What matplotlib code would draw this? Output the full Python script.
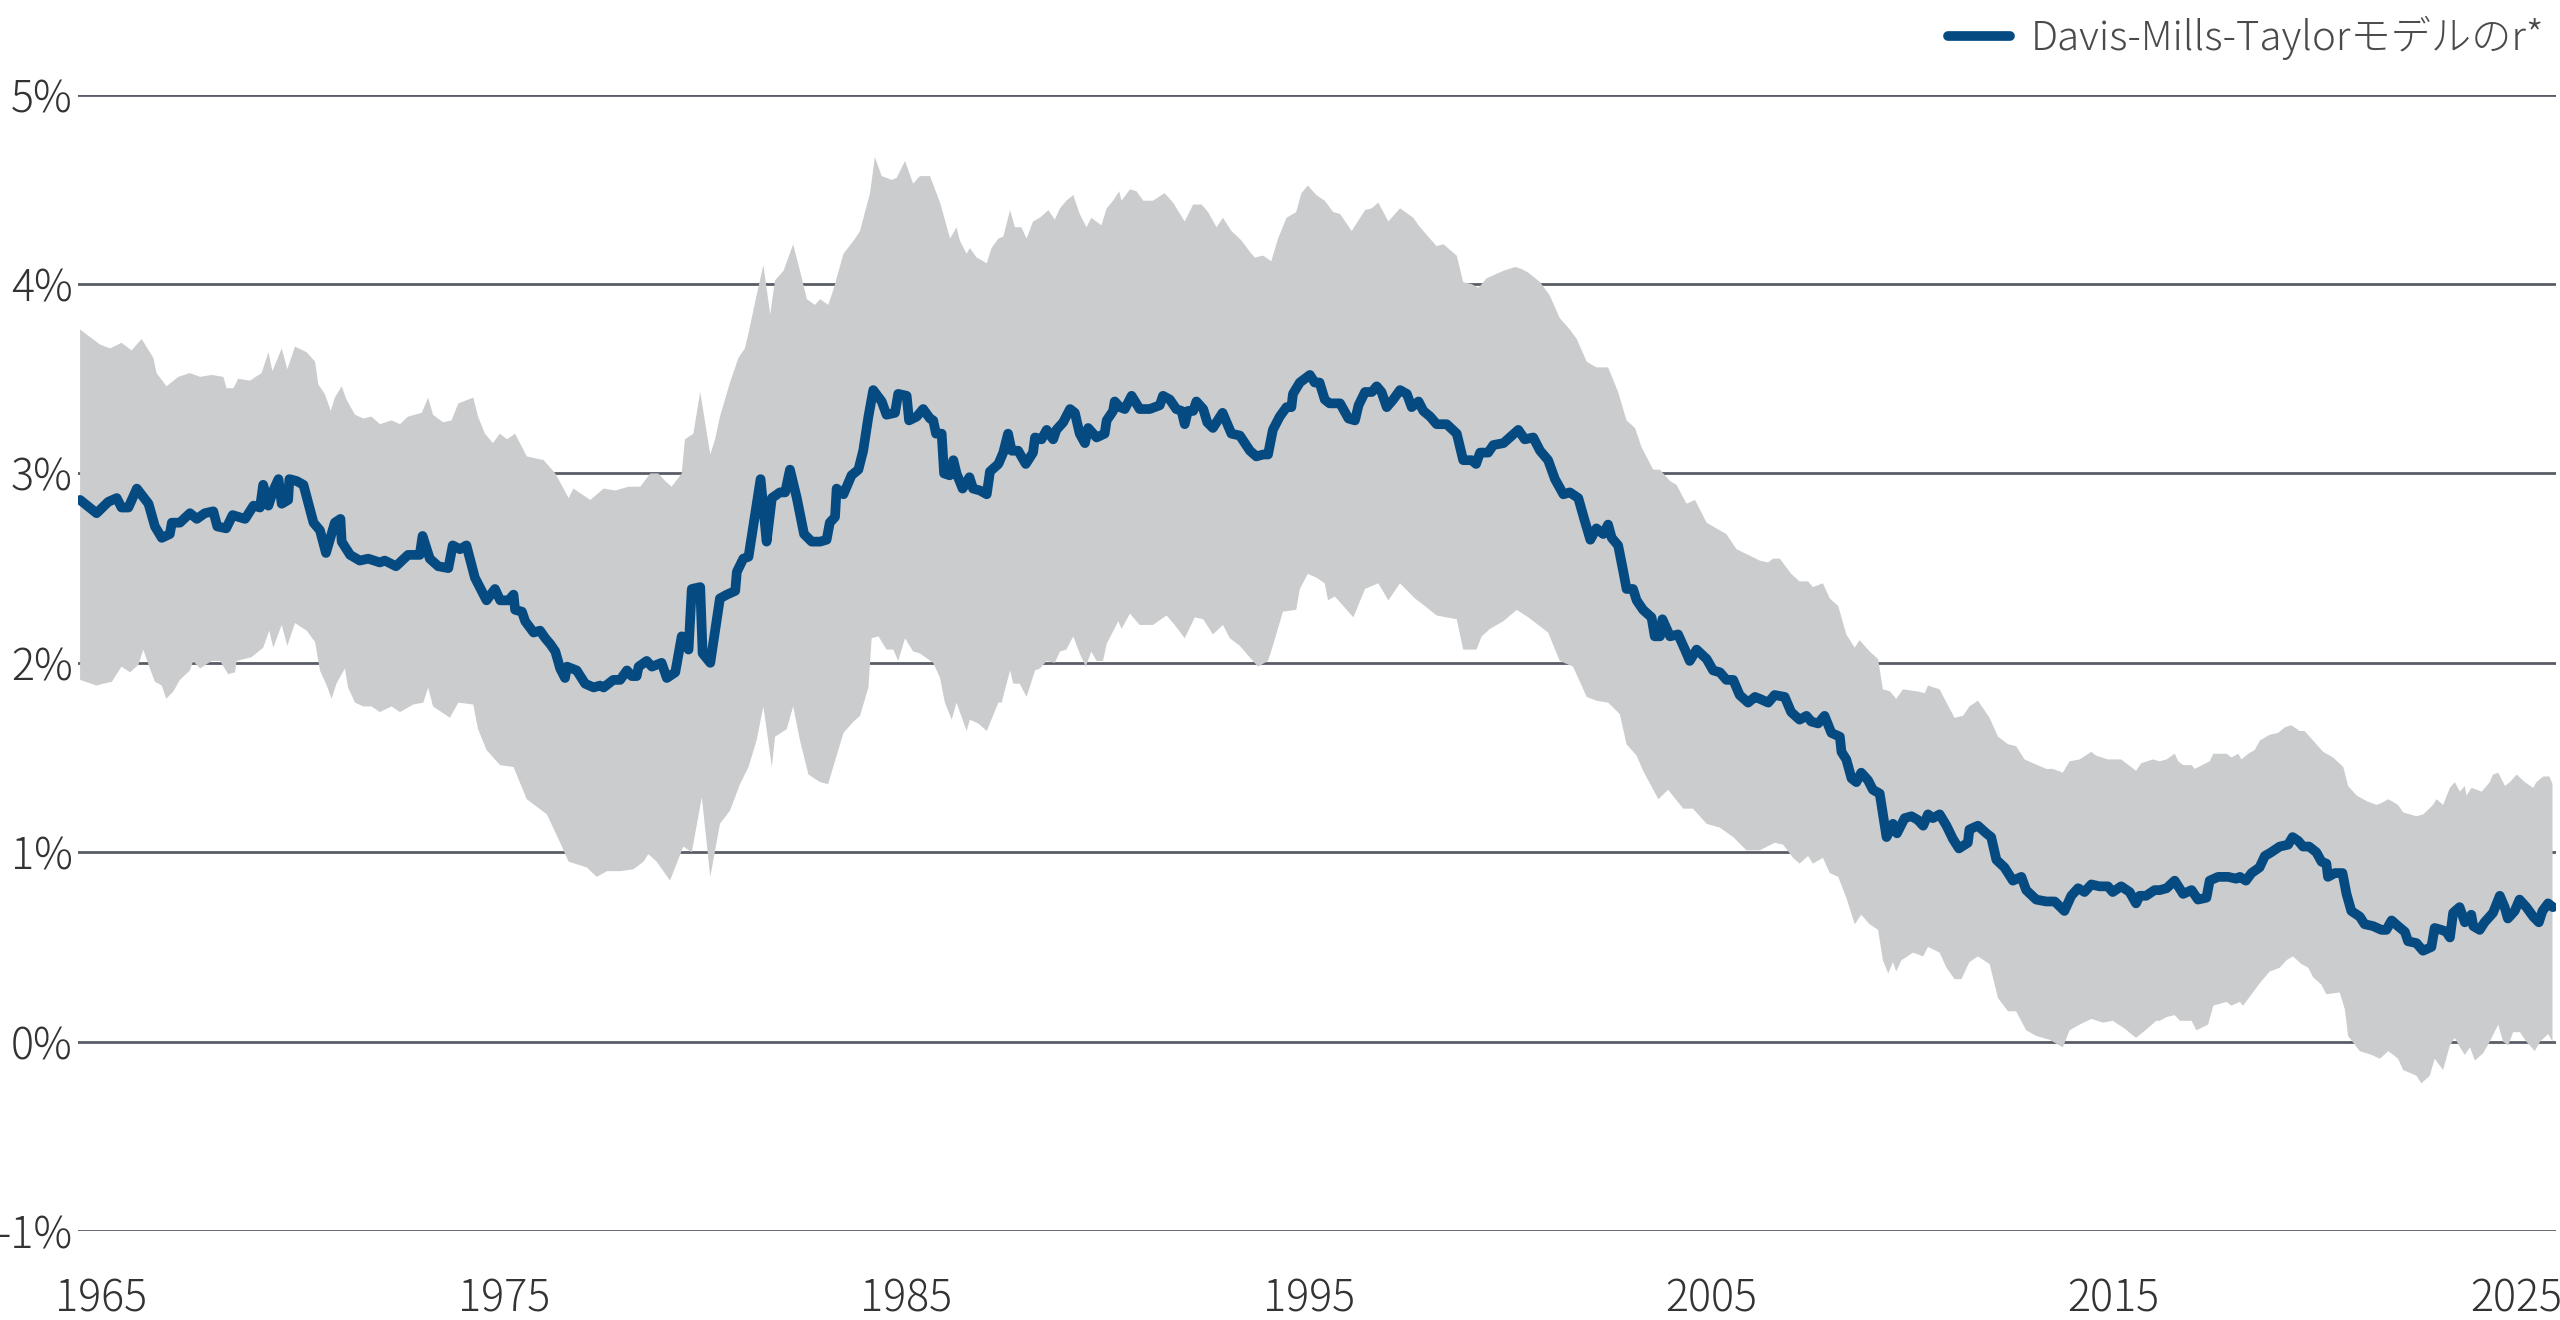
import numpy as np
import matplotlib
matplotlib.use("Agg")
import matplotlib.pyplot as plt
from matplotlib.ticker import FuncFormatter

plt.rcParams['font.family'] = ['Noto Sans CJK JP', 'DejaVu Sans']

# r* estimate (Davis-Mills-Taylor), %
line_years = [
    1964.47, 1964.88, 1965.17, 1965.38, 1965.50, 1965.67, 1965.88, 1966.17, 1966.33, 1966.50,
    1966.70, 1966.75, 1966.95, 1967.20, 1967.37, 1967.57, 1967.78, 1967.88, 1968.10, 1968.26,
    1968.57, 1968.78, 1968.94, 1969.02, 1969.15, 1969.27, 1969.40, 1969.48, 1969.64, 1969.67,
    1969.85, 1970.02, 1970.27, 1970.43, 1970.58, 1970.80, 1970.94, 1970.97, 1971.18, 1971.42,
    1971.63, 1971.92, 1972.04, 1972.32, 1972.62, 1972.91, 1972.98, 1973.16, 1973.37, 1973.62,
    1973.73, 1973.91, 1974.07, 1974.28, 1974.57, 1974.78,
    1974.91, 1975.12, 1975.24, 1975.28, 1975.45, 1975.53, 1975.74, 1975.90, 1976.03, 1976.15,
    1976.28, 1976.40, 1976.52, 1976.57, 1976.81, 1977.02, 1977.23, 1977.39, 1977.48, 1977.72,
    1977.89, 1978.06, 1978.18, 1978.30, 1978.35, 1978.55, 1978.68, 1978.92, 1979.05, 1979.26,
    1979.42, 1979.59, 1979.67, 1979.88, 1979.94, 1980.13, 1980.37, 1980.54, 1980.75, 1980.79,
    1980.95, 1981.08, 1981.24, 1981.38, 1981.53, 1981.66, 1981.86, 1981.99, 1982.11, 1982.28,
    1982.46, 1982.65, 1982.86, 1983.02, 1983.10, 1983.23, 1983.27, 1983.44, 1983.64, 1983.81,
    1983.93, 1984.06, 1984.18, 1984.39, 1984.51, 1984.72, 1984.80, 1985.01, 1985.07, 1985.26,
    1985.42, 1985.59, 1985.67, 1985.74, 1985.88, 1985.94, 1986.08, 1986.17, 1986.25, 1986.40,
    1986.57, 1986.66, 1986.83, 1987.00, 1987.08, 1987.29, 1987.41, 1987.53, 1987.62, 1987.78,
    1987.97, 1988.15, 1988.20, 1988.36, 1988.49, 1988.65, 1988.73, 1988.90, 1989.07, 1989.19,
    1989.31, 1989.44, 1989.52, 1989.73, 1989.93, 1989.98, 1990.14, 1990.18, 1990.31, 1990.43,
    1990.60, 1990.80, 1991.05, 1991.30, 1991.38, 1991.55, 1991.71, 1991.84, 1991.92, 1992.00,
    1992.13, 1992.21, 1992.38, 1992.48, 1992.62, 1992.71, 1992.86, 1993.08, 1993.29, 1993.54,
    1993.70, 1993.87, 1993.99, 1994.11, 1994.28, 1994.45, 1994.57, 1994.61, 1994.78, 1995.03,
    1995.15, 1995.27, 1995.40, 1995.52, 1995.69,
    1995.78, 1995.99, 1996.15, 1996.24, 1996.40, 1996.57, 1996.69, 1996.81, 1996.94, 1997.10,
    1997.27, 1997.44, 1997.56, 1997.73, 1997.85, 1998.02, 1998.18, 1998.43, 1998.68, 1998.84,
    1999.05, 1999.16, 1999.26, 1999.46, 1999.59, 1999.84, 2000.00, 2000.21, 2000.37, 2000.58,
    2000.75, 2000.95, 2001.12, 2001.33, 2001.49, 2001.70, 2001.86, 2002.00, 2002.15, 2002.32,
    2002.44, 2002.53, 2002.69, 2002.82, 2002.90, 2003.06, 2003.15, 2003.31, 2003.52, 2003.60,
    2003.73, 2003.79, 2003.98, 2004.18, 2004.35, 2004.47, 2004.64, 2004.89, 2005.05, 2005.22,
    2005.38, 2005.55, 2005.71, 2005.92, 2006.09,
    2006.21, 2006.42, 2006.58, 2006.83, 2006.99, 2007.20, 2007.37, 2007.49, 2007.66, 2007.82,
    2007.99, 2008.20, 2008.24, 2008.36, 2008.49, 2008.61, 2008.73, 2008.90, 2009.02, 2009.19,
    2009.36, 2009.52, 2009.62, 2009.81, 2009.98, 2010.14, 2010.27, 2010.39, 2010.51, 2010.68,
    2010.85, 2011.01, 2011.16, 2011.38, 2011.42, 2011.63, 2011.84, 2011.96, 2012.09, 2012.29,
    2012.50, 2012.71, 2012.83, 2013.08, 2013.33, 2013.54, 2013.78, 2013.95, 2014.12, 2014.28,
    2014.45, 2014.65, 2014.86, 2014.98, 2015.19, 2015.40, 2015.56, 2015.65, 2015.81, 2016.02,
    2016.15, 2016.32, 2016.52, 2016.73, 2016.94, 2017.10, 2017.31, 2017.39, 2017.60, 2017.85,
    2018.05, 2018.14, 2018.29, 2018.43, 2018.63, 2018.76, 2018.92, 2019.13, 2019.34, 2019.45,
    2019.59, 2019.71, 2019.86, 2020.04, 2020.17, 2020.29, 2020.33, 2020.50, 2020.69, 2020.79,
    2020.91, 2021.12, 2021.24, 2021.45, 2021.66, 2021.78, 2021.91, 2022.07, 2022.24, 2022.32,
    2022.53, 2022.69, 2022.90, 2022.98, 2023.15, 2023.27, 2023.36, 2023.44, 2023.60, 2023.73,
    2023.89, 2023.94, 2024.10, 2024.22, 2024.43, 2024.60, 2024.72, 2024.80, 2024.97, 2025.09,
    2025.26, 2025.43, 2025.57, 2025.66, 2025.80, 2025.92,
]
line_vals = [
    2.86, 2.79, 2.85, 2.87, 2.82, 2.82, 2.92, 2.84, 2.72, 2.66,
    2.68, 2.74, 2.74, 2.79, 2.76, 2.79, 2.80, 2.72, 2.71, 2.78,
    2.76, 2.83, 2.82, 2.94, 2.83, 2.91, 2.97, 2.84, 2.86, 2.97,
    2.96, 2.94, 2.74, 2.70, 2.58, 2.74, 2.76, 2.64, 2.57, 2.54,
    2.55, 2.53, 2.54, 2.51, 2.57, 2.57, 2.67, 2.55, 2.51, 2.50,
    2.62, 2.60, 2.62, 2.45, 2.33, 2.39,
    2.33, 2.33, 2.36, 2.28, 2.27, 2.22, 2.16, 2.17, 2.13, 2.10,
    2.06, 1.97, 1.92, 1.98, 1.96, 1.89, 1.87, 1.88, 1.87, 1.91,
    1.91, 1.96, 1.93, 1.93, 1.98, 2.01, 1.98, 2.00, 1.92, 1.95,
    2.14, 2.07, 2.39, 2.40, 2.05, 2.00, 2.34, 2.36, 2.38, 2.48,
    2.55, 2.56, 2.78, 2.97, 2.64, 2.87, 2.90, 2.90, 3.02, 2.87,
    2.68, 2.64, 2.64, 2.65, 2.74, 2.77, 2.92, 2.89, 2.99, 3.02,
    3.12, 3.30, 3.44, 3.38, 3.31, 3.32, 3.42, 3.41, 3.28, 3.30,
    3.34, 3.29, 3.28, 3.21, 3.21, 3.00, 2.99, 3.07, 3.00, 2.92,
    2.98, 2.92, 2.91, 2.89, 3.01, 3.05, 3.11, 3.21, 3.12, 3.12,
    3.05, 3.11, 3.19, 3.18, 3.23, 3.18, 3.23, 3.27, 3.34, 3.32,
    3.21, 3.16, 3.24, 3.19, 3.21, 3.28, 3.33, 3.38, 3.35, 3.34,
    3.41, 3.34, 3.34, 3.36, 3.41, 3.39, 3.34, 3.33, 3.26, 3.33,
    3.33, 3.38, 3.34, 3.27, 3.24, 3.27, 3.32, 3.21, 3.20, 3.12,
    3.09, 3.10, 3.10, 3.23, 3.30, 3.35, 3.35, 3.42, 3.48, 3.52,
    3.48, 3.48, 3.39, 3.37, 3.37,
    3.37, 3.29, 3.28, 3.36, 3.43, 3.43, 3.46, 3.43, 3.35, 3.39,
    3.44, 3.42, 3.35, 3.38, 3.33, 3.30, 3.26, 3.26, 3.21, 3.07,
    3.07, 3.05, 3.11, 3.11, 3.15, 3.16, 3.19, 3.23, 3.18, 3.19,
    3.12, 3.07, 2.97, 2.89, 2.90, 2.87, 2.75, 2.65, 2.71, 2.68,
    2.73, 2.66, 2.62, 2.48, 2.39, 2.39, 2.33, 2.28, 2.24, 2.14,
    2.14, 2.23, 2.14, 2.15, 2.07, 2.01, 2.07, 2.02, 1.96, 1.95,
    1.91, 1.91, 1.83, 1.79, 1.82,
    1.81, 1.79, 1.83, 1.82, 1.74, 1.70, 1.72, 1.69, 1.68, 1.72,
    1.63, 1.61, 1.53, 1.49, 1.39, 1.37, 1.42, 1.38, 1.33, 1.31,
    1.08, 1.15, 1.10, 1.18, 1.19, 1.17, 1.14, 1.20, 1.18, 1.20,
    1.14, 1.07, 1.02, 1.05, 1.12, 1.14, 1.10, 1.08, 0.96, 0.92,
    0.85, 0.87, 0.80, 0.75, 0.74, 0.74, 0.69, 0.77, 0.81, 0.79,
    0.83, 0.82, 0.82, 0.79, 0.82, 0.79, 0.73, 0.77, 0.77, 0.80,
    0.80, 0.81, 0.85, 0.78, 0.80, 0.75, 0.76, 0.85, 0.87, 0.87,
    0.86, 0.87, 0.85, 0.89, 0.92, 0.98, 1.00, 1.03, 1.04, 1.08,
    1.06, 1.03, 1.03, 1.00, 0.95, 0.94, 0.87, 0.89, 0.89, 0.78,
    0.69, 0.66, 0.62, 0.61, 0.59, 0.59, 0.64, 0.61, 0.58, 0.53,
    0.52, 0.48, 0.50, 0.60, 0.59, 0.58, 0.55, 0.68, 0.71, 0.63,
    0.67, 0.61, 0.59, 0.63, 0.68, 0.77, 0.71, 0.65, 0.69, 0.75,
    0.71, 0.66, 0.63, 0.69, 0.73, 0.71,
]

# upper edge of the uncertainty band, %
upper_years = [
    1964.47, 1964.97, 1965.22, 1965.50, 1965.75, 1966.00, 1966.29, 1966.37, 1966.62, 1966.91,
    1967.20, 1967.45, 1967.74, 1968.03, 1968.11, 1968.28, 1968.40, 1968.69, 1968.98, 1969.15,
    1969.25, 1969.48, 1969.62, 1969.81, 1970.10, 1970.31, 1970.39, 1970.55, 1970.70, 1970.80,
    1970.97, 1971.09, 1971.30, 1971.51, 1971.71, 1971.92, 1972.21, 1972.42, 1972.62, 1972.96,
    1973.12, 1973.24, 1973.49, 1973.70, 1973.87, 1974.24, 1974.36, 1974.53, 1974.73, 1974.90,
    1975.08, 1975.28, 1975.57, 1975.99, 1976.28, 1976.61, 1976.73, 1977.15, 1977.48, 1977.77,
    1978.10, 1978.39, 1978.64, 1978.84, 1979.01, 1979.17, 1979.42, 1979.50, 1979.71, 1979.88,
    1980.13, 1980.25, 1980.37, 1980.62, 1980.83, 1980.99, 1981.08, 1981.28, 1981.45, 1981.62,
    1981.74, 1981.95, 1982.19, 1982.36, 1982.53, 1982.73, 1982.86, 1983.06, 1983.19, 1983.44,
    1983.73, 1983.85, 1984.10, 1984.22, 1984.39, 1984.64, 1984.76, 1984.97, 1985.17,
    1985.34, 1985.59, 1985.84, 1986.09, 1986.25, 1986.33, 1986.50, 1986.58, 1986.75, 1987.00,
    1987.12, 1987.29, 1987.41, 1987.58, 1987.70, 1987.86, 1987.99, 1988.15, 1988.32, 1988.53,
    1988.69, 1988.82, 1988.98, 1989.15, 1989.31, 1989.48, 1989.60, 1989.85, 1989.98, 1990.14,
    1990.29, 1990.35, 1990.56, 1990.72, 1990.89, 1991.13, 1991.42, 1991.63, 1991.92, 1992.13,
    1992.34, 1992.50, 1992.71, 1992.87, 1993.08, 1993.33, 1993.54, 1993.66, 1993.87, 1994.07,
    1994.24, 1994.45, 1994.69, 1994.82, 1994.98, 1995.19, 1995.40, 1995.61,
    1995.78, 1996.07, 1996.40, 1996.57, 1996.73, 1996.98, 1997.27, 1997.60, 1997.73, 1997.93,
    1998.18, 1998.35, 1998.68, 1998.84, 1999.05, 1999.22, 1999.42, 1999.84, 2000.13, 2000.29,
    2000.46, 2000.75, 2000.99, 2001.24, 2001.49, 2001.66, 2001.91, 2002.15, 2002.44, 2002.69,
    2002.90, 2003.11, 2003.27, 2003.56, 2003.73, 2003.98, 2004.14, 2004.39, 2004.60, 2004.89,
    2005.13, 2005.38, 2005.63, 2005.92,
    2006.21, 2006.42, 2006.54, 2006.71, 2006.99, 2007.20, 2007.41, 2007.53, 2007.78, 2007.95,
    2008.16, 2008.36, 2008.57, 2008.69, 2008.94, 2009.15, 2009.27, 2009.44, 2009.60, 2009.77,
    2010.10, 2010.31, 2010.39, 2010.68, 2010.85, 2011.05, 2011.26, 2011.42, 2011.63, 2011.92,
    2012.13, 2012.38, 2012.58, 2012.79, 2013.00, 2013.33, 2013.49, 2013.74, 2013.91, 2014.16,
    2014.45, 2014.57, 2014.86, 2015.19, 2015.56, 2015.69, 2015.98,
    2016.15, 2016.32, 2016.52, 2016.61, 2016.73, 2016.94, 2017.02, 2017.39, 2017.48, 2017.81,
    2017.93, 2018.10, 2018.18, 2018.35, 2018.51, 2018.64, 2018.88, 2019.09, 2019.26, 2019.42,
    2019.63, 2019.75, 2020.00, 2020.21, 2020.46, 2020.71, 2020.83, 2021.04, 2021.29, 2021.54,
    2021.66, 2021.83, 2022.07, 2022.20, 2022.53, 2022.70, 2022.94, 2023.03, 2023.19, 2023.36,
    2023.48, 2023.61, 2023.73, 2023.77, 2023.90, 2024.15, 2024.35, 2024.43, 2024.56, 2024.73,
    2024.85, 2025.02, 2025.22, 2025.43, 2025.51, 2025.68, 2025.83, 2025.91,
]
upper_vals = [
    3.76, 3.68, 3.66, 3.69, 3.65, 3.71, 3.61, 3.53, 3.46, 3.51,
    3.53, 3.51, 3.52, 3.51, 3.45, 3.45, 3.50, 3.49, 3.53, 3.64,
    3.54, 3.66, 3.55, 3.67, 3.64, 3.59, 3.47, 3.42, 3.33, 3.40,
    3.46, 3.39, 3.31, 3.29, 3.30, 3.26, 3.28, 3.26, 3.30, 3.32,
    3.40, 3.31, 3.27, 3.28, 3.37, 3.40, 3.30, 3.21, 3.16, 3.21,
    3.18, 3.21, 3.09, 3.07, 3.00, 2.87, 2.92, 2.86, 2.92, 2.91,
    2.93, 2.93, 3.00, 3.00, 2.96, 2.93, 3.00, 3.18, 3.21, 3.43,
    3.10, 3.18, 3.30, 3.48, 3.61, 3.66, 3.74, 3.94, 4.10, 3.84,
    4.02, 4.07, 4.21, 4.07, 3.92, 3.89, 3.92, 3.89, 3.97, 4.16,
    4.24, 4.28, 4.48, 4.67, 4.57, 4.55, 4.56, 4.65, 4.53,
    4.57, 4.57, 4.43, 4.24, 4.30, 4.23, 4.16, 4.19, 4.14, 4.11,
    4.19, 4.24, 4.25, 4.39, 4.30, 4.30, 4.24, 4.33, 4.35, 4.39,
    4.34, 4.40, 4.44, 4.47, 4.37, 4.30, 4.35, 4.31, 4.40, 4.44,
    4.49, 4.44, 4.50, 4.49, 4.44, 4.44, 4.48, 4.43, 4.33, 4.42,
    4.42, 4.38, 4.30, 4.35, 4.28, 4.23, 4.17, 4.14, 4.15, 4.12,
    4.24, 4.35, 4.38, 4.48, 4.52, 4.47, 4.44, 4.38,
    4.37, 4.28, 4.39, 4.40, 4.43, 4.33, 4.40, 4.35, 4.31, 4.26,
    4.20, 4.21, 4.15, 4.01, 4.00, 3.98, 4.03, 4.07, 4.09, 4.08,
    4.06, 4.01, 3.94, 3.82, 3.76, 3.71, 3.59, 3.56, 3.56, 3.43,
    3.28, 3.24, 3.14, 3.02, 3.02, 2.96, 2.94, 2.84, 2.86, 2.74,
    2.71, 2.68, 2.60, 2.57,
    2.54, 2.53, 2.55, 2.55, 2.47, 2.43, 2.43, 2.40, 2.42, 2.34,
    2.30, 2.15, 2.08, 2.12, 2.06, 2.02, 1.86, 1.85, 1.81, 1.86,
    1.85, 1.84, 1.88, 1.86, 1.79, 1.71, 1.72, 1.77, 1.80, 1.71,
    1.61, 1.57, 1.56, 1.49, 1.47, 1.44, 1.44, 1.42, 1.48, 1.49,
    1.53, 1.51, 1.49, 1.49, 1.43, 1.47, 1.49,
    1.48, 1.49, 1.52, 1.48, 1.46, 1.46, 1.44, 1.48, 1.52, 1.52,
    1.50, 1.52, 1.49, 1.52, 1.54, 1.59, 1.62, 1.63, 1.66, 1.67,
    1.64, 1.64, 1.58, 1.53, 1.50, 1.45, 1.35, 1.30, 1.27, 1.25,
    1.26, 1.28, 1.25, 1.21, 1.19, 1.20, 1.25, 1.28, 1.25, 1.34,
    1.37, 1.32, 1.35, 1.30, 1.34, 1.32, 1.37, 1.41, 1.42, 1.35,
    1.37, 1.41, 1.37, 1.34, 1.37, 1.40, 1.40, 1.36,
]

# lower edge of the uncertainty band, %
lower_years = [
    1964.47, 1964.88, 1965.05, 1965.26, 1965.50, 1965.71, 1965.92, 1966.04, 1966.17, 1966.33,
    1966.50, 1966.61, 1966.79, 1966.95, 1967.20, 1967.28, 1967.45, 1967.74, 1967.95, 1968.15,
    1968.32, 1968.36, 1968.73, 1969.02, 1969.17, 1969.27, 1969.48, 1969.62, 1969.81, 1970.10,
    1970.31, 1970.43, 1970.60, 1970.72, 1970.84, 1971.05, 1971.13, 1971.30, 1971.51, 1971.71,
    1971.92, 1972.21, 1972.42, 1972.75, 1973.00, 1973.12, 1973.24, 1973.66, 1973.87, 1974.24,
    1974.36, 1974.57, 1974.82,
    1974.91, 1975.24, 1975.57, 1976.07, 1976.40, 1976.61, 1977.06, 1977.31, 1977.56, 1977.89,
    1978.22, 1978.47, 1978.59, 1978.80, 1979.13, 1979.46, 1979.67, 1979.92, 1980.13, 1980.37,
    1980.62, 1980.87, 1981.08, 1981.28, 1981.45, 1981.66, 1981.74, 1982.03, 1982.19, 1982.36,
    1982.57, 1982.86, 1983.06, 1983.27, 1983.44, 1983.69, 1983.85, 1984.06, 1984.14, 1984.31,
    1984.51, 1984.68, 1984.80, 1984.97, 1985.17,
    1985.34, 1985.67, 1985.84, 1985.96, 1986.13, 1986.25, 1986.50, 1986.58, 1986.79, 1987.00,
    1987.29, 1987.37, 1987.58, 1987.66, 1987.82, 1987.99, 1988.20, 1988.32, 1988.49, 1988.69,
    1988.82, 1988.98, 1989.15, 1989.31, 1989.46, 1989.60, 1989.73, 1989.89, 1989.98, 1990.27,
    1990.35, 1990.56, 1990.80, 1991.13, 1991.47, 1991.67, 1991.92, 1992.17, 1992.38, 1992.62,
    1992.87, 1993.04, 1993.29, 1993.49, 1993.74, 1993.99, 1994.11, 1994.36, 1994.69, 1994.78,
    1994.98, 1995.19, 1995.40, 1995.48, 1995.65,
    1995.78, 1996.11, 1996.40, 1996.73, 1996.98, 1997.27, 1997.64, 1997.89, 1998.18, 1998.68,
    1998.84, 1999.17, 1999.30, 1999.51, 1999.84, 2000.17, 2000.46, 2000.95, 2001.24, 2001.57,
    2001.91, 2002.15, 2002.44, 2002.73, 2002.90, 2003.15, 2003.31, 2003.69, 2003.93, 2004.31,
    2004.55, 2004.89, 2005.22, 2005.55, 2005.88,
    2006.21, 2006.58, 2006.79, 2007.04, 2007.20, 2007.41, 2007.53, 2007.78, 2007.95, 2008.16,
    2008.36, 2008.57, 2008.73, 2008.94, 2009.15, 2009.27, 2009.40, 2009.52, 2009.60, 2009.73,
    2010.02, 2010.27, 2010.39, 2010.68, 2010.85, 2011.05, 2011.22, 2011.42, 2011.63, 2011.92,
    2012.13, 2012.38, 2012.58, 2012.83, 2013.08, 2013.41, 2013.74, 2013.91, 2014.16, 2014.45,
    2014.74, 2014.98, 2015.27, 2015.56, 2015.85, 2016.06,
    2016.15, 2016.32, 2016.52, 2016.65, 2016.94, 2017.06, 2017.35, 2017.48, 2017.81, 2017.93,
    2018.14, 2018.22, 2018.43, 2018.64, 2018.88, 2019.13, 2019.30, 2019.46, 2019.67, 2019.84,
    2019.96, 2020.17, 2020.29, 2020.62, 2020.75, 2020.83, 2021.12, 2021.41, 2021.62, 2021.83,
    2022.07, 2022.20, 2022.53, 2022.65, 2022.86, 2022.98, 2023.19, 2023.36, 2023.48, 2023.61,
    2023.73, 2023.86, 2023.98, 2024.19, 2024.35, 2024.56, 2024.68, 2024.81, 2024.93, 2025.10,
    2025.26, 2025.47, 2025.60, 2025.80, 2025.91,
]
lower_vals = [
    1.91, 1.88, 1.89, 1.90, 1.98, 1.95, 1.99, 2.07, 1.99, 1.90,
    1.88, 1.81, 1.85, 1.91, 1.96, 2.01, 1.97, 2.01, 2.01, 1.94,
    1.95, 2.01, 2.03, 2.08, 2.17, 2.08, 2.20, 2.09, 2.21, 2.17,
    2.11, 1.96, 1.88, 1.81, 1.89, 1.97, 1.87, 1.79, 1.77, 1.77,
    1.74, 1.77, 1.74, 1.78, 1.79, 1.87, 1.77, 1.71, 1.79, 1.78,
    1.65, 1.54, 1.48,
    1.46, 1.45, 1.28, 1.20, 1.05, 0.95, 0.92, 0.87, 0.90, 0.90,
    0.91, 0.95, 0.99, 0.95, 0.85, 1.03, 1.00, 1.29, 0.87, 1.15,
    1.22, 1.36, 1.45, 1.59, 1.77, 1.45, 1.61, 1.65, 1.77, 1.59,
    1.41, 1.37, 1.36, 1.51, 1.63, 1.69, 1.72, 1.87, 2.13, 2.14,
    2.07, 2.07, 2.01, 2.13, 2.06,
    2.05, 2.00, 1.92, 1.79, 1.70, 1.79, 1.64, 1.70, 1.68, 1.64,
    1.79, 1.79, 1.96, 1.89, 1.89, 1.82, 1.96, 1.97, 2.01, 2.00,
    2.06, 2.07, 2.14, 2.05, 1.98, 2.06, 2.01, 2.01, 2.10, 2.22,
    2.18, 2.26, 2.20, 2.20, 2.25, 2.20, 2.13, 2.24, 2.23, 2.15,
    2.20, 2.13, 2.09, 2.04, 1.98, 2.01, 2.09, 2.27, 2.28, 2.39,
    2.47, 2.45, 2.42, 2.33, 2.35,
    2.32, 2.24, 2.39, 2.42, 2.33, 2.42, 2.34, 2.30, 2.25, 2.23,
    2.07, 2.07, 2.14, 2.18, 2.22, 2.28, 2.24, 2.16, 2.01, 1.98,
    1.82, 1.80, 1.79, 1.73, 1.57, 1.51, 1.43, 1.28, 1.33, 1.23,
    1.23, 1.15, 1.13, 1.08, 1.01,
    1.01, 1.05, 1.04, 0.97, 0.94, 0.98, 0.94, 0.97, 0.89, 0.87,
    0.76, 0.62, 0.67, 0.62, 0.59, 0.43, 0.36, 0.42, 0.37, 0.43,
    0.47, 0.45, 0.50, 0.47, 0.39, 0.33, 0.33, 0.42, 0.45, 0.41,
    0.23, 0.16, 0.16, 0.06, 0.03, 0.01, -0.03, 0.06, 0.09, 0.12,
    0.10, 0.11, 0.07, 0.02, 0.07, 0.11,
    0.11, 0.13, 0.14, 0.11, 0.11, 0.06, 0.09, 0.19, 0.21, 0.19,
    0.21, 0.19, 0.25, 0.31, 0.37, 0.39, 0.43, 0.45, 0.41, 0.39,
    0.34, 0.30, 0.25, 0.26, 0.17, 0.03, -0.05, -0.07, -0.09, -0.05,
    -0.09, -0.15, -0.18, -0.22, -0.18, -0.09, -0.15, -0.02, 0.02, -0.03,
    -0.07, -0.03, -0.10, -0.06, 0.00, 0.09, 0.00, -0.02, 0.05, 0.05,
    0.00, -0.05, 0.00, 0.04, 0.00,
]

year_ticks = [1965, 1975, 1985, 1995, 2005, 2015, 2025]
pct_ticks = [-1, 0, 1, 2, 3, 4, 5]
series_label = 'Davis-Mills-Taylorモデルのr*'

line_color = '#054B82'
band_color = '#CBCCCE'
grid_color = '#5A5D66'
text_color = '#333333'

fig = plt.figure(figsize=(25.6, 13.2), dpi=100)
ax = fig.add_axes([0.0305, 0.0674, 0.968, 0.8609])

# band as one polygon: upper edge forward, lower edge back
band_x = np.concatenate([upper_years, lower_years[::-1]])
band_y = np.concatenate([upper_vals, lower_vals[::-1]])
ax.fill(band_x, band_y, color=band_color, lw=0, zorder=2)

ax.plot(line_years, line_vals, color=line_color, lw=7,
        solid_joinstyle='round', solid_capstyle='round', zorder=3,
        label=series_label)

ax.set_xlim(1964.42, 2026.0)
ax.set_ylim(-1, 5)
ax.set_xticks(year_ticks)
ax.set_yticks(pct_ticks)
ax.yaxis.set_major_formatter(FuncFormatter(lambda v, p: f'{int(v)}%'))
ax.grid(axis='y', color=grid_color, lw=2.0, zorder=1)
ax.grid(axis='x', visible=False)
ax.set_axisbelow(True)
for s in ax.spines.values():
    s.set_visible(False)
ax.tick_params(axis='both', length=0, labelsize=31, colors=text_color)
ax.tick_params(axis='y', pad=4)
ax.tick_params(axis='x', pad=33)
for lab in ax.get_xticklabels() + ax.get_yticklabels():
    lab.set_fontweight('light')

leg = ax.legend(loc='lower right', bbox_to_anchor=(1.0, 1.02), frameon=False,
                fontsize=29, handlelength=1.55, handletextpad=0.5,
                borderaxespad=0.2, borderpad=0.1)
for t in leg.get_texts():
    t.set_color('#4A4A4A')
    t.set_fontweight('light')
for h in leg.get_lines():
    h.set_linewidth(7)
    h.set_solid_capstyle('round')

fig.savefig('out.png', dpi=100)
